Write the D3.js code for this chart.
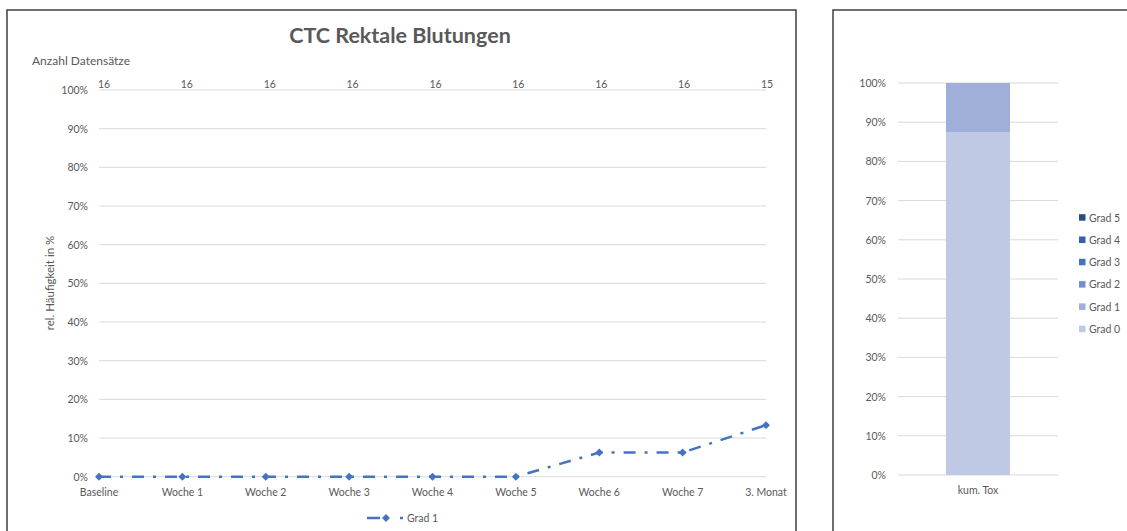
<!DOCTYPE html>
<html lang="de">
<head>
    <meta charset="UTF-8">
    <title>CTC Rektale Blutungen</title>
    <script src="https://d3js.org/d3.v7.min.js"></script>
    <style>
        body { margin: 0; background: #fff; }
        svg { display: block; font-family: Lato, "Open Sans", sans-serif; }
        .tick-label { fill: #595959; font-size: 10.5px; }
    </style>
</head>
<body>
    <div id="chart"></div>

    <script>
        // line chart data
        const categories = ['Baseline', 'Woche 1', 'Woche 2', 'Woche 3', 'Woche 4', 'Woche 5', 'Woche 6', 'Woche 7', '3. Monat'];
        const grad1 = [0, 0, 0, 0, 0, 0, 6.25, 6.25, 13.33];
        const counts = [16, 16, 16, 16, 16, 16, 16, 16, 15];
        const yTicks = [0, 10, 20, 30, 40, 50, 60, 70, 80, 90, 100];

        // cumulative bar data
        const barCategories = ['kum. Tox'];
        const gradNames = ['Grad 0', 'Grad 1', 'Grad 2', 'Grad 3', 'Grad 4', 'Grad 5'];
        const gradValues = [87.5, 12.5, 0, 0, 0, 0];
        const gradColors = ['#bfc9e3', '#9fafd9', '#6f8fd0', '#4472c4', '#3360b0', '#2a4a85'];

        const W = 1127, H = 531;
        const svg = d3.select('#chart').append('svg')
            .attr('width', W)
            .attr('height', H);

        // panel frames (no bottom edge visible)
        svg.append('path')
            .attr('d', `M7,${H}V10H796V${H}`)
            .attr('fill', 'none')
            .attr('stroke', '#3f3f3f')
            .attr('stroke-width', 1.5);
        svg.append('path')
            .attr('d', `M833,${H}V10H${W + 5}`)
            .attr('fill', 'none')
            .attr('stroke', '#3f3f3f')
            .attr('stroke-width', 1.5);

        // ---------- left chart ----------
        const x = d3.scalePoint().domain(categories).range([99, 766]);
        const y = d3.scaleLinear().domain([0, 100]).range([476.7, 90]);

        svg.append('text')
            .attr('x', 400).attr('y', 43)
            .attr('text-anchor', 'middle')
            .attr('font-size', 21.5).attr('font-weight', 'bold')
            .attr('fill', '#595959')
            .text('CTC Rektale Blutungen');

        svg.append('g')
            .selectAll('line')
            .data(yTicks)
            .join('line')
            .attr('x1', 99).attr('x2', 766)
            .attr('y1', d => y(d)).attr('y2', d => y(d))
            .attr('stroke', '#d9d9d9').attr('stroke-width', 1);

        svg.append('g')
            .selectAll('text')
            .data(yTicks)
            .join('text')
            .attr('class', 'tick-label')
            .attr('x', 88).attr('y', d => y(d) + 4)
            .attr('text-anchor', 'end')
            .text(d => d + '%');

        svg.append('g')
            .selectAll('text')
            .data(categories)
            .join('text')
            .attr('class', 'tick-label')
            .attr('x', d => x(d)).attr('y', 496)
            .attr('text-anchor', 'middle')
            .text(d => d);

        // sample counts on top
        const xTop = d3.scalePoint().domain(categories).range([104, 767]);
        svg.append('text')
            .attr('class', 'tick-label')
            .style('font-size', '12px')
            .attr('x', 32).attr('y', 65)
            .text('Anzahl Datensätze');
        svg.append('g')
            .selectAll('text')
            .data(counts)
            .join('text')
            .attr('class', 'tick-label')
            .attr('x', (d, i) => xTop(categories[i])).attr('y', 88)
            .attr('text-anchor', 'middle')
            .text(d => d);

        svg.append('text')
            .attr('class', 'tick-label')
            .style('font-size', '11.5px')
            .attr('transform', 'translate(54,283) rotate(-90)')
            .attr('text-anchor', 'middle')
            .text('rel. Häufigkeit in %');

        const line = d3.line()
            .x((d, i) => x(categories[i]))
            .y(d => y(d));

        svg.append('path')
            .datum(grad1)
            .attr('d', line)
            .attr('fill', 'none')
            .attr('stroke', '#4472c4')
            .attr('stroke-width', 2.5)
            .attr('stroke-dasharray', '12,9,3,9');

        const diamond = d3.symbol().type(d3.symbolDiamond2).size(40);
        svg.append('g')
            .selectAll('path')
            .data(grad1)
            .join('path')
            .attr('d', diamond)
            .attr('transform', (d, i) => `translate(${x(categories[i])},${y(d)})`)
            .attr('fill', '#4472c4');

        // legend
        svg.append('line')
            .attr('x1', 367).attr('x2', 403)
            .attr('y1', 518).attr('y2', 518)
            .attr('stroke', '#4472c4').attr('stroke-width', 2.5)
            .attr('stroke-dasharray', '13,20,3,9');
        svg.append('path')
            .attr('d', diamond)
            .attr('transform', 'translate(386,518)')
            .attr('fill', '#4472c4');
        svg.append('text')
            .attr('class', 'tick-label')
            .attr('x', 407).attr('y', 522)
            .text('Grad 1');

        // ---------- right chart ----------
        const xb = d3.scaleBand().domain(barCategories).range([898, 1058]).paddingInner(0.6).paddingOuter(0.3);
        const yb = d3.scaleLinear().domain([0, 100]).range([475, 83]);

        svg.append('g')
            .selectAll('line')
            .data(yTicks)
            .join('line')
            .attr('x1', 898).attr('x2', 1058)
            .attr('y1', d => yb(d)).attr('y2', d => yb(d))
            .attr('stroke', '#d9d9d9').attr('stroke-width', 1);

        svg.append('g')
            .selectAll('text')
            .data(yTicks)
            .join('text')
            .attr('class', 'tick-label')
            .attr('x', 886).attr('y', d => yb(d) + 4)
            .attr('text-anchor', 'end')
            .text(d => d + '%');

        const stackRow = {};
        gradNames.forEach((g, i) => { stackRow[g] = gradValues[i]; });
        const stacked = d3.stack().keys(gradNames)([stackRow]);

        svg.append('g')
            .selectAll('rect')
            .data(stacked)
            .join('rect')
            .attr('x', xb('kum. Tox'))
            .attr('width', xb.bandwidth())
            .attr('y', d => yb(d[0][1]))
            .attr('height', d => yb(d[0][0]) - yb(d[0][1]))
            .attr('fill', (d, i) => gradColors[i]);

        svg.append('text')
            .attr('class', 'tick-label')
            .attr('x', xb('kum. Tox') + xb.bandwidth() / 2).attr('y', 494)
            .attr('text-anchor', 'middle')
            .text(barCategories[0]);

        // legend, Grad 5 on top
        const legendOrder = gradNames.map((g, i) => i).reverse();
        const lg = svg.append('g')
            .selectAll('g')
            .data(legendOrder)
            .join('g')
            .attr('transform', (d, k) => `translate(1079,${217.7 + k * 22.3})`);
        lg.append('rect')
            .attr('x', 0).attr('y', -3.5)
            .attr('width', 6.5).attr('height', 6.5)
            .attr('fill', d => gradColors[d]);
        lg.append('text')
            .attr('class', 'tick-label')
            .attr('x', 10).attr('y', 3.8)
            .text(d => gradNames[d]);
    </script>
</body>
</html>
